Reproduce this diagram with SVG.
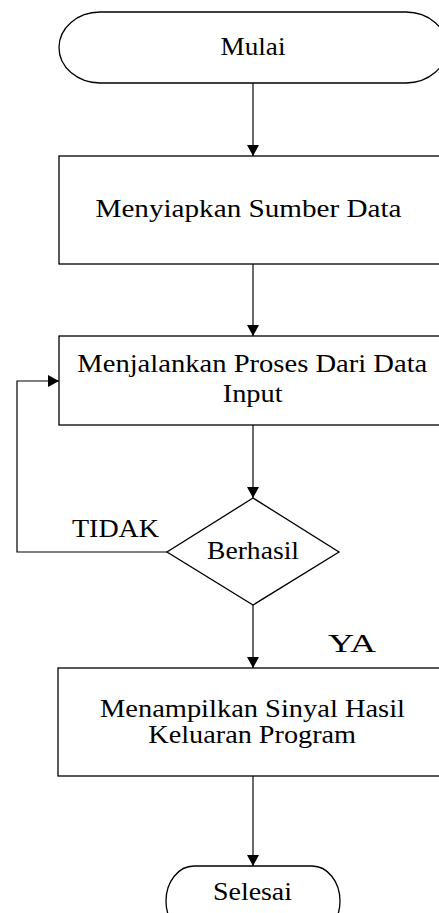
<svg xmlns="http://www.w3.org/2000/svg" width="439" height="913" viewBox="0 0 439 913">
<style>
.shape{fill:#fff;stroke:#000;stroke-width:1.3}
.t{font-family:"Liberation Serif","Times New Roman",serif;font-size:24.5px;fill:#000;text-anchor:middle}
.tl{font-family:"Liberation Serif","Times New Roman",serif;font-size:24.5px;fill:#000}
.flow{fill:none;stroke:#6b6b6b;stroke-width:2}
.loop{fill:none;stroke:#000;stroke-width:1.2}
</style>
<defs>
<marker id="arr" markerUnits="userSpaceOnUse" markerWidth="14" markerHeight="12" refX="11" refY="6" orient="auto">
<path d="M0,0 L11,6 L0,12 Z" fill="#000"/>
</marker>
</defs>
<rect width="439" height="913" fill="#fff"/>
<g id="connectors">
<line class="flow" x1="253" y1="83" x2="253" y2="156" marker-end="url(#arr)"/>
<line class="flow" x1="253" y1="264" x2="253" y2="336" marker-end="url(#arr)"/>
<line class="flow" x1="253" y1="425" x2="253" y2="498" marker-end="url(#arr)"/>
<line class="flow" x1="253" y1="605" x2="253" y2="668" marker-end="url(#arr)"/>
<line class="flow" x1="253" y1="776" x2="253" y2="866" marker-end="url(#arr)"/>
<polyline class="loop" points="167,552 17,552 17,381 59,381" marker-end="url(#arr)"/>
<text class="tl" x="72" y="537" textLength="87" lengthAdjust="spacingAndGlyphs">TIDAK</text>
<text class="tl" x="328" y="652" textLength="48" lengthAdjust="spacingAndGlyphs">YA</text>
</g>
<g id="mulai">
<rect class="shape" x="59" y="12" width="388" height="71" rx="41" ry="35.5"/>
<text class="t" x="253" y="55" textLength="65" lengthAdjust="spacingAndGlyphs">Mulai</text>
</g>
<g id="menyiapkan">
<rect class="shape" x="59" y="156" width="390" height="108"/>
<text class="t" x="248.5" y="217" textLength="306" lengthAdjust="spacingAndGlyphs">Menyiapkan Sumber Data</text>
</g>
<g id="menjalankan">
<rect class="shape" x="59" y="336" width="390" height="89"/>
<text class="t" x="252.3" y="372" textLength="350" lengthAdjust="spacingAndGlyphs">Menjalankan Proses Dari Data</text>
<text class="t" x="252.7" y="401.5" textLength="60" lengthAdjust="spacingAndGlyphs">Input</text>
</g>
<g id="berhasil">
<polygon class="shape" points="253,498 339,552 253,605 167,552"/>
<text class="t" x="253" y="559" textLength="92" lengthAdjust="spacingAndGlyphs">Berhasil</text>
</g>
<g id="menampilkan">
<rect class="shape" x="58" y="668" width="391" height="108"/>
<text class="t" x="252.5" y="716.7" textLength="305" lengthAdjust="spacingAndGlyphs">Menampilkan Sinyal Hasil</text>
<text class="t" x="252.2" y="743.3" textLength="207.7" lengthAdjust="spacingAndGlyphs">Keluaran Program</text>
</g>
<g id="selesai">
<rect class="shape" x="166" y="866" width="174" height="70" rx="28" ry="35"/>
<text class="t" x="252.5" y="900" textLength="79" lengthAdjust="spacingAndGlyphs">Selesai</text>
</g>
</svg>
